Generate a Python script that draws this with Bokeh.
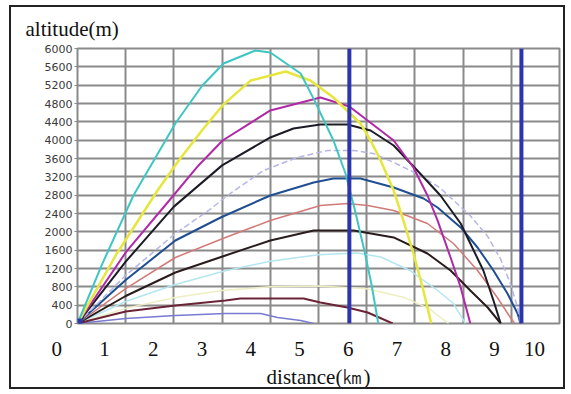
from bokeh.plotting import figure
from bokeh.models import Range1d, LinearAxis, FixedTicker, Span
from bokeh.embed import file_html
from bokeh.resources import INLINE

# ---- data (distance in km along the grid, altitude in m) ----
d_cyan = [0, 0.5, 1.16, 2.03, 2.59, 3.03, 3.69, 4.0, 4.63, 4.9, 5.31, 5.56, 5.75, 5.95, 6.1, 6.24]
h_cyan = [0, 1270, 2793, 4364, 5193, 5673, 5957, 5913, 5455, 4900, 3993, 3273, 2500, 1600, 850, 0]

d_yellow = [0, 0.8, 1.66, 2.10, 2.61, 3.03, 3.59, 4.32, 4.83, 5.31, 5.87, 6.08, 6.29, 6.56, 6.76, 6.97, 7.16, 7.34]
h_yellow = [0, 1500, 2902, 3557, 4250, 4780, 5300, 5498, 5302, 4931, 4364, 3993, 3557, 2902, 2250, 1527, 786, 0]

d_magenta = [0, 1.0, 1.99, 2.51, 3.01, 4.0, 5.04, 5.64, 6.56, 6.97, 7.26, 7.47, 7.74, 7.95, 8.15]
h_magenta = [0, 1550, 2793, 3448, 3993, 4648, 4931, 4735, 3993, 3404, 2793, 2250, 1440, 786, 0]

d_black1 = [0, 1.0, 2.0, 3.0, 4.0, 4.48, 5.04, 5.6, 6.08, 6.56, 7.05, 7.53, 7.95, 8.15, 8.42, 8.63, 8.78]
h_black1 = [0, 1350, 2550, 3450, 4059, 4255, 4342, 4342, 4211, 3884, 3339, 2793, 2182, 1746, 1156, 502, 0]

d_lavender = [0, 1.0, 2.03, 2.72, 3.17, 3.86, 4.56, 5.19, 5.73, 6.14, 6.56, 7.12, 7.53, 8.15, 8.51, 8.78, 8.98, 9.13, 9.19]
h_lavender = [0, 1050, 1964, 2466, 2837, 3339, 3622, 3775, 3775, 3709, 3513, 3229, 2950, 2350, 1900, 1400, 873, 349, 0]

d_blue = [0, 1.0, 2.03, 2.97, 4.0, 4.9, 5.31, 5.87, 6.56, 7.18, 7.47, 7.95, 8.30, 8.63, 8.92, 9.13, 9.19]
h_blue = [0, 950, 1811, 2313, 2793, 3077, 3164, 3164, 2968, 2728, 2531, 2095, 1658, 1156, 655, 218, 0]

d_salmon = [0, 1.0, 2.03, 3.07, 4.0, 5.04, 5.6, 6.02, 6.56, 7.26, 7.80, 8.30, 8.71, 8.98, 9.07]
h_salmon = [0, 760, 1440, 1877, 2247, 2575, 2618, 2575, 2466, 2182, 1746, 1156, 567, 131, 0]

d_black2 = [0, 1.0, 2.03, 3.07, 4.0, 4.9, 5.73, 6.56, 7.26, 7.74, 8.15, 8.51, 8.78]
h_black2 = [0, 600, 1113, 1484, 1811, 2029, 2029, 1877, 1527, 1156, 720, 349, 0]

d_lightcyan = [0, 1.0, 2.03, 3.07, 4.0, 5.0, 5.8, 6.29, 6.91, 7.47, 7.80, 8.05]
h_lightcyan = [0, 480, 850, 1150, 1360, 1500, 1540, 1450, 1150, 720, 436, 0]

d_paleyellow = [0, 1.0, 2.0, 3.0, 4.0, 5.0, 6.0, 6.8, 7.3, 7.7]
h_paleyellow = [0, 330, 560, 720, 800, 820, 760, 560, 320, 0]

d_maroon = [0, 1.0, 2.03, 3.07, 3.38, 4.69, 5.04, 5.6, 6.02, 6.54]
h_maroon = [0, 262, 393, 502, 545, 545, 458, 349, 240, 0]

d_periwinkle = [0, 1.0, 2.03, 3.07, 3.80, 4.15, 4.63, 4.90]
h_periwinkle = [0, 109, 175, 218, 218, 131, 65, 0]

limit_d = [5.64, 9.21]          # vertical limit lines (grid km)
origin_d = [0]
origin_h = [0]

grid_ticks = [0, 1, 2, 3, 4, 5, 6, 7, 8, 9, 10]
altitude_ticks = [0, 400, 800, 1200, 1600, 2000, 2400, 2800, 3200, 3600, 4000, 4400, 4800, 5200, 5600, 6000]
# distance labels sit on their own (slightly offset) scale
km_tick_pos = [0.45, 1, 2, 3, 4, 5, 6, 7, 8, 9, 9.82]
km_tick_labels = ["0" + "\u00a0" * 8, "1", "2", "3", "4", "5", "6", "7", "8", "9", "10"]

W, H = 556, 384

# ---- figure ----
p = figure(width=W, height=H,
           x_range=Range1d(0, 10), y_range=Range1d(0, 6000),
           x_axis_location=None,
           output_backend="svg", toolbar_location=None,
           min_border_left=66, min_border_right=8,
           min_border_top=41, min_border_bottom=68)
p.styles = {"border": "2px solid #222222", "margin-left": "9px", "margin-top": "5px"}

grid_col = "#8a8a8a"
p.outline_line_color = grid_col
p.outline_line_width = 2
p.xgrid.ticker = FixedTicker(ticks=grid_ticks)
p.ygrid.ticker = FixedTicker(ticks=altitude_ticks)
for g in (p.xgrid, p.ygrid):
    g.grid_line_color = grid_col
    g.grid_line_width = 2

p.yaxis.ticker = FixedTicker(ticks=altitude_ticks)
p.yaxis.axis_line_color = None
p.yaxis.major_tick_line_color = grid_col
p.yaxis.major_tick_out = 3
p.yaxis.major_tick_in = 0
p.yaxis.minor_tick_line_color = None
p.yaxis.major_label_text_font = "DejaVu Sans"
p.yaxis.major_label_text_font_size = "11px"
p.yaxis.major_label_text_color = "#3a3a3a"
p.yaxis.major_label_standoff = 2

p.extra_x_ranges = {"km": Range1d(0.446, 10.333)}
km_axis = LinearAxis(x_range_name="km",
                     ticker=FixedTicker(ticks=km_tick_pos),
                     major_label_overrides={t: s for t, s in zip(km_tick_pos, km_tick_labels)},
                     axis_label="distance(㎞)")
km_axis.axis_line_color = None
km_axis.major_tick_line_color = None
km_axis.minor_tick_line_color = None
km_axis.major_tick_out = 0
km_axis.major_tick_in = 0
km_axis.major_label_standoff = 13
km_axis.major_label_text_font = "Liberation Serif"
km_axis.major_label_text_font_size = "21px"
km_axis.major_label_text_line_height = 1.0
km_axis.major_label_text_color = "#111111"
km_axis.axis_label_text_font = "Liberation Serif"
km_axis.axis_label_text_font_size = "21px"
km_axis.axis_label_text_line_height = 1.0
km_axis.axis_label_text_font_style = "normal"
km_axis.axis_label_text_color = "#111111"
km_axis.axis_label_standoff = 1
p.add_layout(km_axis, "below")

p.title.text = "altitude(m)"
p.title.text_font = "Liberation Serif"
p.title.text_font_size = "21px"
p.title.text_line_height = 1.0
p.title.text_font_style = "normal"
p.title.text_color = "#111111"
p.title.align = "left"
p.title.offset = -52
p.title.standoff = 15

# ---- trajectories ----
series = [
    (d_paleyellow, h_paleyellow, "#eeeec4", 1.5, "solid"),
    (d_lightcyan, h_lightcyan, "#b4e6f0", 1.5, "solid"),
    (d_periwinkle, h_periwinkle, "#7a7ad2", 1.5, "solid"),
    (d_maroon, h_maroon, "#6a2436", 2, "solid"),
    (d_black2, h_black2, "#2a1c1c", 2, "solid"),
    (d_salmon, h_salmon, "#d27a78", 1.5, "solid"),
    (d_blue, h_blue, "#1f4f92", 2, "solid"),
    (d_lavender, h_lavender, "#b6b6e6", 1.5, "6 3"),
    (d_black1, h_black1, "#1c1c26", 2, "solid"),
    (d_magenta, h_magenta, "#b02aa8", 2, "solid"),
    (d_yellow, h_yellow, "#e6e63c", 2.5, "solid"),
    (d_cyan, h_cyan, "#3ec6c2", 2, "solid"),
]
for xs, ys, col, w, dash in series:
    p.line(xs, ys, line_color=col, line_width=w, line_dash=dash)

for loc in limit_d:
    p.add_layout(Span(location=loc, dimension="height",
                      line_color="#2b35ae", line_width=4))

p.scatter(origin_d, origin_h, marker="square", size=9,
          fill_color="#2b3aa8", line_color="#2b3aa8")

open("out.html", "w").write(file_html(p, INLINE))
